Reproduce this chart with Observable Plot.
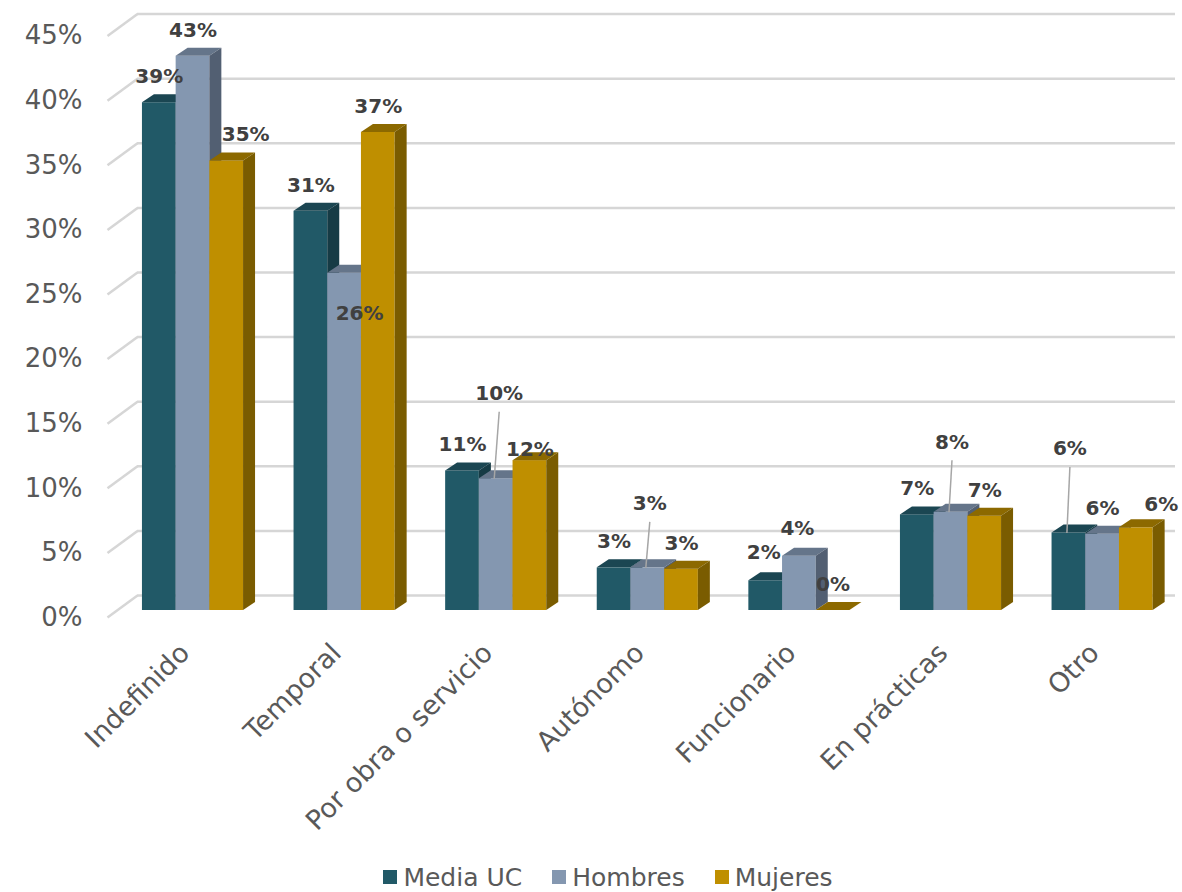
<!DOCTYPE html>
<html><head><meta charset="utf-8">
<script src="https://cdn.jsdelivr.net/npm/d3@7"></script>
<script src="https://cdn.jsdelivr.net/npm/@observablehq/plot@0.6"></script>
<style>
body{margin:0;background:#fff;font-family:"DejaVu Sans",Verdana,sans-serif;}
#chart{width:1182px;}
.legend{display:flex;justify-content:center;align-items:center;padding-left:34px;height:42px;font-size:25px;color:#595959;}
.legend .item{display:flex;align-items:center;margin:0 15px;}
.legend .sw{width:14px;height:14px;margin-right:6px;}
</style></head><body><div id="chart"></div>
<script>
// ---- data ----
const categories = ["Indefinido","Temporal","Por obra o servicio","Autónomo","Funcionario","En prácticas","Otro"];
const seriesNames = ["Media UC","Hombres","Mujeres"];
const mediaUC = [39.3, 30.9, 10.8, 3.3, 2.3, 7.4, 6.0];
const hombres = [42.9, 26.1, 10.2, 3.3, 4.2, 7.6, 5.9];
const mujeres = [34.8, 37.0, 11.6, 3.2, 0.0, 7.3, 6.4];
const yTicks = [0, 5, 10, 15, 20, 25, 30, 35, 40, 45];

// ---- styles ----
const frontColors = ["#215967", "#8497B0", "#BF8F00"];
const topColors   = ["#1B4652", "#65758A", "#8C6900"];
const sideColors  = ["#163B45", "#525F72", "#7A5C00"];
// label nudges [dx, dy] in px, keyed "category-series"
const labelNudge = {"0-2":[19,0], "1-1":[15,66], "2-1":[3,-59], "2-2":[0,15], "3-1":[2,-38],
  "4-0":[-2,-2], "4-1":[-2,-2], "5-1":[1,-44], "6-0":[1,-58], "6-2":[25,3]};

// ---- layout ----
const W = 1182, H = 856, Y0 = 610, PXPCT = 12.92;
const CAT0 = 192.5, STEP = 151.6, BARW = 33.7, DEPTHX = 12, DEPTHY = 8;
const ux = px => (px - CAT0) / STEP;
const bw = BARW / STEP, dX = DEPTHX / STEP, dY = DEPTHY / PXPCT;
const LEFT = 107, BACKX = 137, RIGHT = 1175;

const values = [mediaUC, hombres, mujeres];
const rows = [];
categories.forEach((c, ci) => seriesNames.forEach((s, si) => {
  const v = values[si][ci];
  const x1 = ci - 1.5 * bw + si * bw;
  const nd = labelNudge[ci + "-" + si] || [0, 0];
  rows.push({c, s, ci, si, v, x1, x2: x1 + bw, xc: x1 + bw / 2, ndx: nd[0], ndy: nd[1]});
}));

const gridColor = "#D6D6D6";
const marks = [
  Plot.ruleY(yTicks, {y: d => d + 15 / PXPCT, x1: ux(BACKX), x2: ux(RIGHT), stroke: gridColor, strokeWidth: 2.5}),
  Plot.link(yTicks, {x1: ux(LEFT), y1: d => d - 7 / PXPCT, x2: ux(BACKX), y2: d => d + 15 / PXPCT, stroke: gridColor, strokeWidth: 2.5}),
  Plot.axisY({ticks: yTicks, tickFormat: d => d + "%", tickSize: 0, tickPadding: 25, dy: 7, fontSize: 26, color: "#595959"})
];
for (const r of rows) {
  marks.push(Plot.rect([r], {x1: d => d.x1, x2: d => d.x2, y1: 0, y2: d => d.v, fill: frontColors[r.si]}));
  marks.push(Plot.areaX([{y: r.v, a: r.x1, b: r.x2}, {y: r.v + dY, a: r.x1 + dX, b: r.x2 + dX}],
    {y: "y", x1: "a", x2: "b", fill: topColors[r.si]}));
  marks.push(Plot.areaY([{x: r.x2, a: 0, b: r.v}, {x: r.x2 + dX, a: dY, b: r.v + dY}],
    {x: "x", y1: "a", y2: "b", fill: sideColors[r.si]}));
}
for (const r of rows) {
  if (r.ndy < -30) {
    marks.push(Plot.link([r], {x1: d => d.xc - 2 / STEP, y1: d => d.v, x2: d => d.xc + d.ndx / STEP,
      y2: d => d.v + (8 - d.ndy) / PXPCT, stroke: "#A6A6A6", strokeWidth: 1.5}));
  }
  marks.push(Plot.text([r], {x: "xc", y: "v", text: d => Math.round(d.v) + "%", dx: r.ndx, dy: -26 + r.ndy,
    fontSize: 20, fontWeight: "bold", fill: "#404040", lineAnchor: "middle"}));
}
marks.push(Plot.text(categories, {x: (d, i) => i, y: 0, text: d => d, rotate: -45, textAnchor: "end",
  lineAnchor: "middle", dx: -8, dy: 38, fontSize: 27, fill: "#595959"}));

const chart = Plot.plot({
  width: W, height: H,
  marginLeft: LEFT, marginRight: W - RIGHT, marginTop: Y0 - 45 * PXPCT, marginBottom: H - Y0,
  x: {type: "linear", domain: [ux(LEFT), ux(RIGHT)], axis: null},
  y: {domain: [0, 45]},
  style: {fontFamily: "DejaVu Sans, Verdana, sans-serif", background: "#fff", overflow: "visible"},
  marks
});
document.getElementById("chart").appendChild(chart);

const legend = document.createElement("div");
legend.className = "legend";
seriesNames.forEach((s, i) => {
  const it = document.createElement("div"); it.className = "item";
  const sw = document.createElement("span"); sw.className = "sw"; sw.style.background = frontColors[i];
  const tx = document.createElement("span"); tx.textContent = s;
  it.appendChild(sw); it.appendChild(tx); legend.appendChild(it);
});
document.getElementById("chart").appendChild(legend);
</script></body></html>
